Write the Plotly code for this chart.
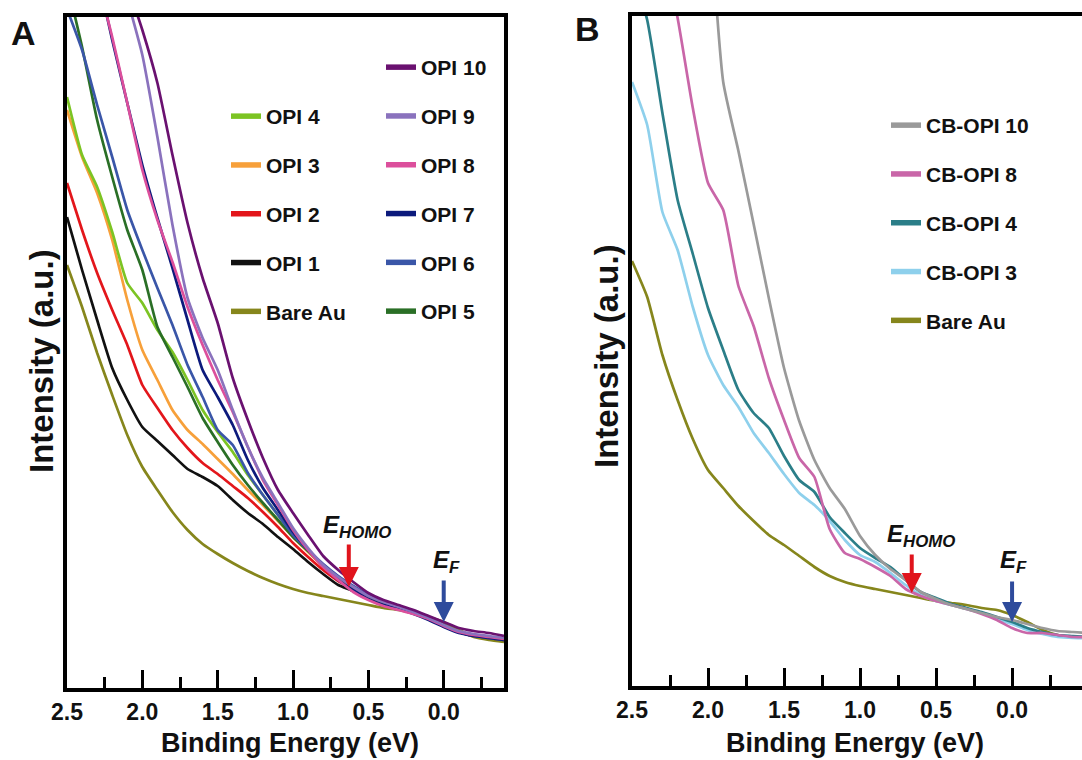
import plotly.graph_objects as go

# ---------------- data ----------------
energy_A = [2.5, 2.4, 2.3, 2.2, 2.1, 2.0, 1.9, 1.8, 1.7, 1.6, 1.5, 1.4, 1.3, 1.2, 1.1,
            1.0, 0.9, 0.8, 0.7, 0.6, 0.5, 0.4, 0.3, 0.2, 0.1, 0.0, -0.1, -0.2, -0.3, -0.4]

bare_au_A = [423, 381, 335, 293, 253, 221, 198, 176, 158, 144, 134, 125, 117, 110, 104,
             99, 95, 92, 89, 86, 83, 80, 78, 75, 71, 66, 58, 51, 48, 46]
opi1 = [471, 418, 368, 320, 288, 261, 247, 233, 219, 211, 202, 188, 175, 164, 151,
        139, 126, 114, 103, 97, 89, 84, 80, 75, 70, 62, 56, 53, 50, 48]
opi2 = [505, 458, 415, 378, 343, 303, 280, 258, 240, 225, 214, 202, 190, 176, 161,
        145, 131, 118, 107, 99, 90, 84, 79, 75, 69, 62, 56, 52, 50, 48]
opi3 = [578, 531, 495, 448, 388, 338, 308, 278, 258, 244, 229, 214, 198, 183, 167,
        151, 136, 122, 110, 100, 91, 85, 80, 75, 70, 62, 56, 52, 50, 48]
opi4 = [591, 533, 501, 456, 405, 385, 358, 336, 308, 278, 256, 236, 213, 193, 173,
        153, 137, 123, 111, 101, 92, 85, 80, 75, 70, 63, 57, 53, 51, 49]
opi5 = [705, 641, 568, 511, 458, 418, 361, 331, 301, 270, 246, 223, 203, 185, 168,
        151, 137, 123, 111, 101, 92, 85, 80, 75, 70, 63, 56, 52, 50, 48]
opi6 = [679, 638, 583, 531, 478, 438, 400, 363, 323, 291, 258, 243, 215, 193, 173,
        153, 138, 124, 112, 102, 93, 86, 80, 75, 70, 62, 56, 52, 50, 48]
opi7 = [None, None, 716, 648, 585, 523, 470, 420, 368, 318, 291, 263, 228, 200, 178,
        156, 138, 122, 108, 98, 89, 83, 79, 74, 68, 61, 55, 52, 50, 48]
opi8 = [None, None, 710, 651, 585, 518, 468, 426, 381, 343, 308, 276, 241, 208, 183,
        158, 138, 121, 108, 96, 88, 82, 78, 74, 69, 62, 56, 53, 51, 49]
opi9 = [None, None, None, None, 689, 633, 551, 463, 390, 350, 318, 278, 241, 210, 185,
        160, 140, 123, 111, 101, 92, 86, 81, 76, 70, 63, 57, 54, 52, 50]
opi10 = [None, None, None, None, 703, 658, 605, 533, 465, 410, 365, 310, 268, 230, 198,
         175, 153, 132, 118, 106, 95, 88, 83, 78, 72, 66, 60, 57, 55, 52]

energy_B = [2.5, 2.4, 2.3, 2.2, 2.1, 2.0, 1.9, 1.8, 1.7, 1.6, 1.5, 1.4, 1.3, 1.2, 1.1,
            1.0, 0.9, 0.8, 0.7, 0.6, 0.5, 0.4, 0.3, 0.2, 0.1, 0.0, -0.1, -0.2, -0.3, -0.4, -0.5]
bare_au_B = [425, 389, 331, 286, 247, 216, 198, 180, 165, 151, 141, 130, 119, 110, 104,
             100, 97, 94, 91, 88, 85, 83, 81, 78, 76, 71, 64, 56, 51, 49, 48]
cb_opi3 = [604, 561, 474, 436, 379, 331, 301, 279, 253, 233, 212, 193, 181, 165, 146,
           131, 124, 113, 101, 91, 85, 81, 77, 73, 67, 62, 56, 52, 49, 48, 48]
cb_opi4 = [716, 666, 573, 486, 432, 378, 336, 296, 273, 258, 230, 206, 194, 169, 153,
           138, 128, 119, 106, 94, 88, 82, 78, 74, 69, 64, 58, 54, 51, 50, 49]
cb_opi8 = [None, None, 740, 668, 578, 503, 476, 400, 360, 308, 266, 228, 209, 157, 133,
           127, 119, 110, 97, 90, 85, 81, 77, 72, 66, 58, 53, 53, 51, 49, 49]
cb_opi10 = [None, None, None, None, None, 800, 604, 535, 462, 388, 318, 265, 226, 198, 177,
            150, 131, 117, 106, 94, 87, 81, 77, 73, 69, 66, 62, 58, 55, 54, 53]

e_homo_A, e_homo_B, e_fermi = 0.63, 0.66, 0.0

tick_vals = [2.5, 2.0, 1.5, 1.0, 0.5, 0.0]
tick_text = ["2.5", "2.0", "1.5", "1.0", "0.5", "0.0"]

# ---------------- figure ----------------
W, H = 1082, 760
FONT = "Liberation Sans, Arial, sans-serif"


def px(xp):
    return xp / W


def py(yp):
    return 1 - yp / H


fig = go.Figure()


def add_series(name, xs, vals, col, xa, ya, leg, rank, group):
    fig.add_trace(go.Scatter(x=xs, y=vals, mode="lines", name=name, showlegend=False,
                             line=dict(color=col, width=2.7, shape="spline", smoothing=0.5),
                             xaxis=xa, yaxis=ya, legendgroup=group))
    # legend swatch (thicker line, as in the original legend)
    fig.add_trace(go.Scatter(x=[None], y=[None], mode="lines", name=name,
                             line=dict(color=col, width=5.5),
                             xaxis=xa, yaxis=ya, legend=leg,
                             legendgroup=group, legendrank=rank))


series_A = [
    ("Bare Au", bare_au_A, "#86861c", "legend", 5),
    ("OPI 1", opi1, "#111111", "legend", 4),
    ("OPI 2", opi2, "#e3161b", "legend", 3),
    ("OPI 3", opi3, "#f7a03a", "legend", 2),
    ("OPI 4", opi4, "#7cc423", "legend", 1),
    ("OPI 5", opi5, "#2a6f26", "legend2", 6),
    ("OPI 6", opi6, "#3a56a8", "legend2", 5),
    ("OPI 7", opi7, "#0c1a7c", "legend2", 4),
    ("OPI 8", opi8, "#dc4f9c", "legend2", 3),
    ("OPI 9", opi9, "#8a72bd", "legend2", 2),
    ("OPI 10", opi10, "#6a1170", "legend2", 1),
]
for name, vals, col, leg, rank in series_A:
    add_series(name, energy_A, vals, col, "x", "y", leg, rank, "A" + name)

series_B = [
    ("Bare Au", bare_au_B, "#86861c", 5),
    ("CB-OPI 3", cb_opi3, "#8ed0ec", 4),
    ("CB-OPI 4", cb_opi4, "#2b7e88", 3),
    ("CB-OPI 8", cb_opi8, "#c966a8", 2),
    ("CB-OPI 10", cb_opi10, "#9a9a9a", 1),
]
for name, vals, col, rank in series_B:
    add_series(name, energy_B, vals, col, "x2", "y2", "legend3", rank, "B" + name)

xcommon = dict(
    showline=True, linewidth=3.5, linecolor="black", mirror=True,
    ticks="inside", ticklen=18, tickwidth=3, tickcolor="black",
    tickvals=tick_vals, ticktext=tick_text, automargin=False,
    tickfont=dict(family=FONT, size=23, color="#111", weight="bold"),
    showgrid=False, zeroline=False, ticklabelstandoff=1,
    minor=dict(tickvals=[2.25, 1.75, 1.25, 0.75, 0.25, -0.25], ticks="inside",
               ticklen=11, tickwidth=3, tickcolor="black", showgrid=False),
)
ycommon = dict(showline=True, linewidth=3.5, linecolor="black", automargin=False,
               showticklabels=False, ticks="", showgrid=False, zeroline=False)

fig.update_layout(
    template="none",
    width=W, height=H, margin=dict(l=0, r=0, t=0, b=0, pad=0, autoexpand=False),
    paper_bgcolor="white", plot_bgcolor="white",
    font=dict(family=FONT, color="#111"),
    xaxis=dict(domain=[px(67), px(504)], range=[2.5, -0.4], anchor="y", **xcommon),
    yaxis=dict(domain=[py(688), py(17)], range=[0, 671], anchor="x", mirror=True, **ycommon),
    xaxis2=dict(domain=[px(632), 1.0], range=[2.5, -0.46], anchor="y2", **xcommon),
    yaxis2=dict(domain=[py(686), py(16)], range=[0, 670], anchor="x2", mirror=False, **ycommon),
)

legfont = dict(family=FONT, size=21, color="#111", weight="bold")
legcommon = dict(xanchor="left", yanchor="top", font=legfont, bgcolor="rgba(0,0,0,0)",
                 borderwidth=0, tracegroupgap=18.5, traceorder="grouped", itemwidth=30)
fig.update_layout(
    legend=dict(x=px(226), y=py(96), **legcommon),
    legend2=dict(x=px(381), y=py(47), **legcommon),
    legend3=dict(x=px(886), y=py(105), **legcommon),
)

ann = []
bold = dict(family=FONT, color="#111", weight="bold")
ann.append(dict(text="A", x=px(23), y=py(33), font=dict(size=34, **bold)))
ann.append(dict(text="B", x=px(587), y=py(29), font=dict(size=34, **bold)))
ann.append(dict(text="Intensity (a.u.)", textangle=-90, x=px(41), y=py(361),
                font=dict(size=33, **bold)))
ann.append(dict(text="Intensity (a.u.)", textangle=-90, x=px(606), y=py(356),
                font=dict(size=33, **bold)))
ann.append(dict(text="Binding Energy (eV)", x=px(290), y=py(743), font=dict(size=27, **bold)))
ann.append(dict(text="Binding Energy (eV)", x=px(855), y=py(743), font=dict(size=27, **bold)))

ehomo = "<i>E</i><sub><i>HOMO</i></sub>"
ef = "<i>E</i><sub><i>F</i></sub>"
ann.append(dict(text=ehomo, x=px(321), y=py(526), xanchor="left", font=dict(size=24, **bold)))
ann.append(dict(text=ef, x=px(431), y=py(561), xanchor="left", font=dict(size=24, **bold)))
ann.append(dict(text=ehomo, x=px(885), y=py(535), xanchor="left", font=dict(size=24, **bold)))
ann.append(dict(text=ef, x=px(998), y=py(561), xanchor="left", font=dict(size=24, **bold)))
for a in ann:
    a.setdefault("xanchor", "center")
    a.update(xref="paper", yref="paper", yanchor="middle", showarrow=False)

arrows = [
    ("x", "y", e_homo_A, 101, -44, "#e0141c"),
    ("x", "y", e_fermi, 66, -43, "#2e4b9c"),
    ("x2", "y2", e_homo_B, 93, -40, "#e0141c"),
    ("x2", "y2", e_fermi, 64, -42, "#2e4b9c"),
]
for xr, yr, xv, yv, ay, col in arrows:
    ann.append(dict(xref=xr, yref=yr, x=xv, y=yv, ax=0, ay=ay, axref="pixel", ayref="pixel",
                    text="", showarrow=True, arrowhead=2, arrowsize=1.0, arrowwidth=4,
                    arrowcolor=col, standoff=0))

fig.update_layout(annotations=ann)
fig.write_html("out.html", config={"responsive": False, "displayModeBar": False},
               post_script="document.body.style.margin='0';"
                           "document.body.style.overflow='hidden';")
